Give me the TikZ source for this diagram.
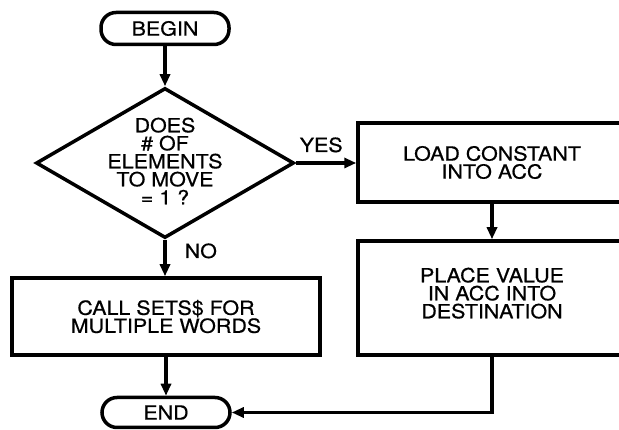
\documentclass[tikz,border=0pt]{standalone}
\usepackage{fontspec}
\setmainfont{TeX Gyre Heros}[FakeStretch=1.1,FakeBold=0.6]
\usetikzlibrary{shapes.geometric,arrows.meta}
\begin{document}
\begin{tikzpicture}[x=1pt,y=-1pt,line width=3.5pt,
  txt/.style={font=\fontsize{19.5}{18}\selectfont, align=center},
  term/.style={draw, rounded corners=15pt, minimum width=128pt, minimum height=32pt, inner sep=0pt, txt},
  procbox/.style={draw, inner sep=0pt, txt},
  decision/.style={draw, diamond, minimum width=258pt, minimum height=150pt, inner sep=0pt},
  flow/.style={-{Triangle[length=12pt,width=10pt]}, line width=3.5pt},
  lbl/.style={font=\fontsize{19.5}{18}\selectfont, inner sep=0pt}]
\useasboundingbox (0,0) rectangle (619,430);
\clip (0,0) rectangle (619,430);
\node[term] (begin) at (165,28.5) {BEGIN};
\node[decision] (dec) at (165,163) {};
\node[txt] (dectext) at (165,161) {DOES\\\# OF\\ELEMENTS\\TO MOVE\\= 1 ?};
\node[procbox, minimum width=268pt, minimum height=79pt] (load) at (492,162.5) {LOAD CONSTANT\\INTO ACC};
\node[procbox, minimum width=268pt, minimum height=114pt, text depth=10pt] (place) at (492,298) {PLACE VALUE\\IN ACC INTO\\DESTINATION};
\node[procbox, minimum width=308pt, minimum height=77pt] (call) at (166,316.5) {CALL SETS\$ FOR\\MULTIPLE WORDS};
\node[term, minimum height=30pt] (end) at (166,412.5) {END};
\node[lbl, anchor=base west] (yes) at (298,152) {YES};
\node[lbl, anchor=base west] (no) at (183,258) {NO};
\draw[flow] (begin) -- (dec);
\draw[flow] (dec.east) -- (dec.east -| load.west);
\draw[flow] (dec.south) -- (dec.south |- call.north);
\draw[flow] (load) -- (place);
\draw[flow] (call) -- (end);
\draw[flow] (place.south) |- (end.east);
\end{tikzpicture}
\end{document}
